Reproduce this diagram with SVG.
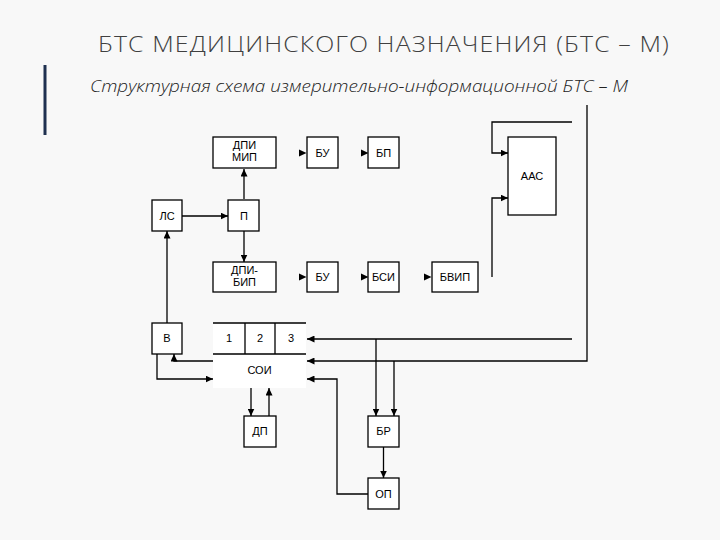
<svg xmlns="http://www.w3.org/2000/svg" width="720" height="540" viewBox="0 0 720 540">
<style>
.bg{fill:#f8f8f8}
.box{fill:#ffffff;stroke:#000;stroke-width:1.3}
.ln{fill:none;stroke:#000;stroke-width:1.3}
.lbl{font-family:"Liberation Sans",Arial,sans-serif;font-size:11px;fill:#000;text-anchor:middle}
.ah{fill:#000}
</style>
<defs>
<marker id="arr" markerUnits="userSpaceOnUse" markerWidth="8" markerHeight="7" refX="7.5" refY="3.5" orient="auto">
<path d="M0,0 L7.5,3.5 L0,7 z" fill="#000"/>
</marker>
</defs>
<rect class="bg" x="0" y="0" width="720" height="540"/>
<rect x="43.5" y="65" width="3" height="70" fill="#1f3050"/>
<text x="98" y="52" textLength="572" lengthAdjust="spacingAndGlyphs" style="font-family:'Open Sans','Noto Sans',sans-serif;font-size:22px;font-weight:300;fill:#404040;letter-spacing:1px">БТС МЕДИЦИНСКОГО НАЗНАЧЕНИЯ (БТС – М)</text>
<text x="90" y="92" textLength="538" lengthAdjust="spacingAndGlyphs" style="font-family:'Open Sans','Noto Sans',sans-serif;font-size:17px;font-weight:300;font-style:italic;fill:#222">Структурная схема измерительно-информационной БТС – М</text>

<g id="connectors">
<path class="ln" d="M244,199 V169" marker-end="url(#arr)"/>
<path class="ln" d="M244,231 V262" marker-end="url(#arr)"/>
<path class="ln" d="M182,216 H228" marker-end="url(#arr)"/>
<path class="ln" d="M167,323 V231" marker-end="url(#arr)"/>
<path class="ln" d="M213,361 H174 V354" marker-end="url(#arr)"/>
<path class="ln" d="M157,354 V379 H213" marker-end="url(#arr)"/>
<path class="ln" d="M572,122 H492 V153 H508" marker-end="url(#arr)"/>
<path class="ln" d="M492,277 V198 H508" marker-end="url(#arr)"/>
<path class="ln" d="M572,339 H307" marker-end="url(#arr)"/>
<path class="ln" d="M587,105 V361 H307" marker-end="url(#arr)"/>
<path class="ln" d="M376,339 V416" marker-end="url(#arr)"/>
<path class="ln" d="M394,361 V416" marker-end="url(#arr)"/>
<path class="ln" d="M383.5,447 V478" marker-end="url(#arr)"/>
<path class="ln" d="M368,494 H337 V379 H307" marker-end="url(#arr)"/>
<path class="ln" d="M251,388 V416" marker-end="url(#arr)"/>
<path class="ln" d="M269,416 V388" marker-end="url(#arr)"/>
<polygon class="ah" points="299,149.5 306.5,153 299,156.5"/>
<polygon class="ah" points="361,149.5 368.5,153 361,156.5"/>
<polygon class="ah" points="299,273.5 306.5,277 299,280.5"/>
<polygon class="ah" points="361,273.5 368.5,277 361,280.5"/>
<polygon class="ah" points="424,273.5 431.5,277 424,280.5"/>
</g>

<g id="dpi-mip"><rect class="box" x="213" y="137" width="63" height="31"/><text class="lbl" x="244.5" y="149">ДПИ</text><text class="lbl" x="244.5" y="161">МИП</text></g>
<g id="bu1"><rect class="box" x="307" y="137" width="31" height="31"/><text class="lbl" x="322.5" y="157">БУ</text></g>
<g id="bp"><rect class="box" x="368" y="137" width="31" height="31"/><text class="lbl" x="383.5" y="157">БП</text></g>
<g id="aac"><rect class="box" x="508" y="137" width="48" height="78"/><text class="lbl" x="532" y="180">ААС</text></g>
<g id="ls"><rect class="box" x="152" y="200" width="30" height="31"/><text class="lbl" x="167" y="220">ЛС</text></g>
<g id="p"><rect class="box" x="228" y="200" width="31" height="31"/><text class="lbl" x="244" y="220">П</text></g>
<g id="dpi-bip"><rect class="box" x="213" y="262" width="63" height="30"/><text class="lbl" x="244.5" y="274">ДПИ-</text><text class="lbl" x="244.5" y="286">БИП</text></g>
<g id="bu2"><rect class="box" x="307" y="262" width="31" height="30"/><text class="lbl" x="322.5" y="281">БУ</text></g>
<g id="bsi"><rect class="box" x="368" y="262" width="31" height="30"/><text class="lbl" x="383.5" y="281">БСИ</text></g>
<g id="bvip"><rect class="box" x="432" y="262" width="46" height="30"/><text class="lbl" x="455" y="281">БВИП</text></g>
<g id="v"><rect class="box" x="152" y="323" width="30" height="31"/><text class="lbl" x="167" y="342">В</text></g>
<g id="soi">
<rect x="213" y="323" width="93" height="65" fill="#fff"/>
<path class="ln" d="M213,323 H306 M213,354 H306 M245,323 V354 M275,323 V354"/>
<text class="lbl" x="229" y="342">1</text>
<text class="lbl" x="260" y="342">2</text>
<text class="lbl" x="291" y="342">3</text>
<text class="lbl" x="259.5" y="374">СОИ</text>
</g>
<g id="dp"><rect class="box" x="244" y="416" width="32" height="31"/><text class="lbl" x="260" y="435">ДП</text></g>
<g id="br"><rect class="box" x="368" y="416" width="31" height="31"/><text class="lbl" x="383.5" y="435">БР</text></g>
<g id="op"><rect class="box" x="368" y="478" width="31" height="31"/><text class="lbl" x="383.5" y="498">ОП</text></g>
</svg>
